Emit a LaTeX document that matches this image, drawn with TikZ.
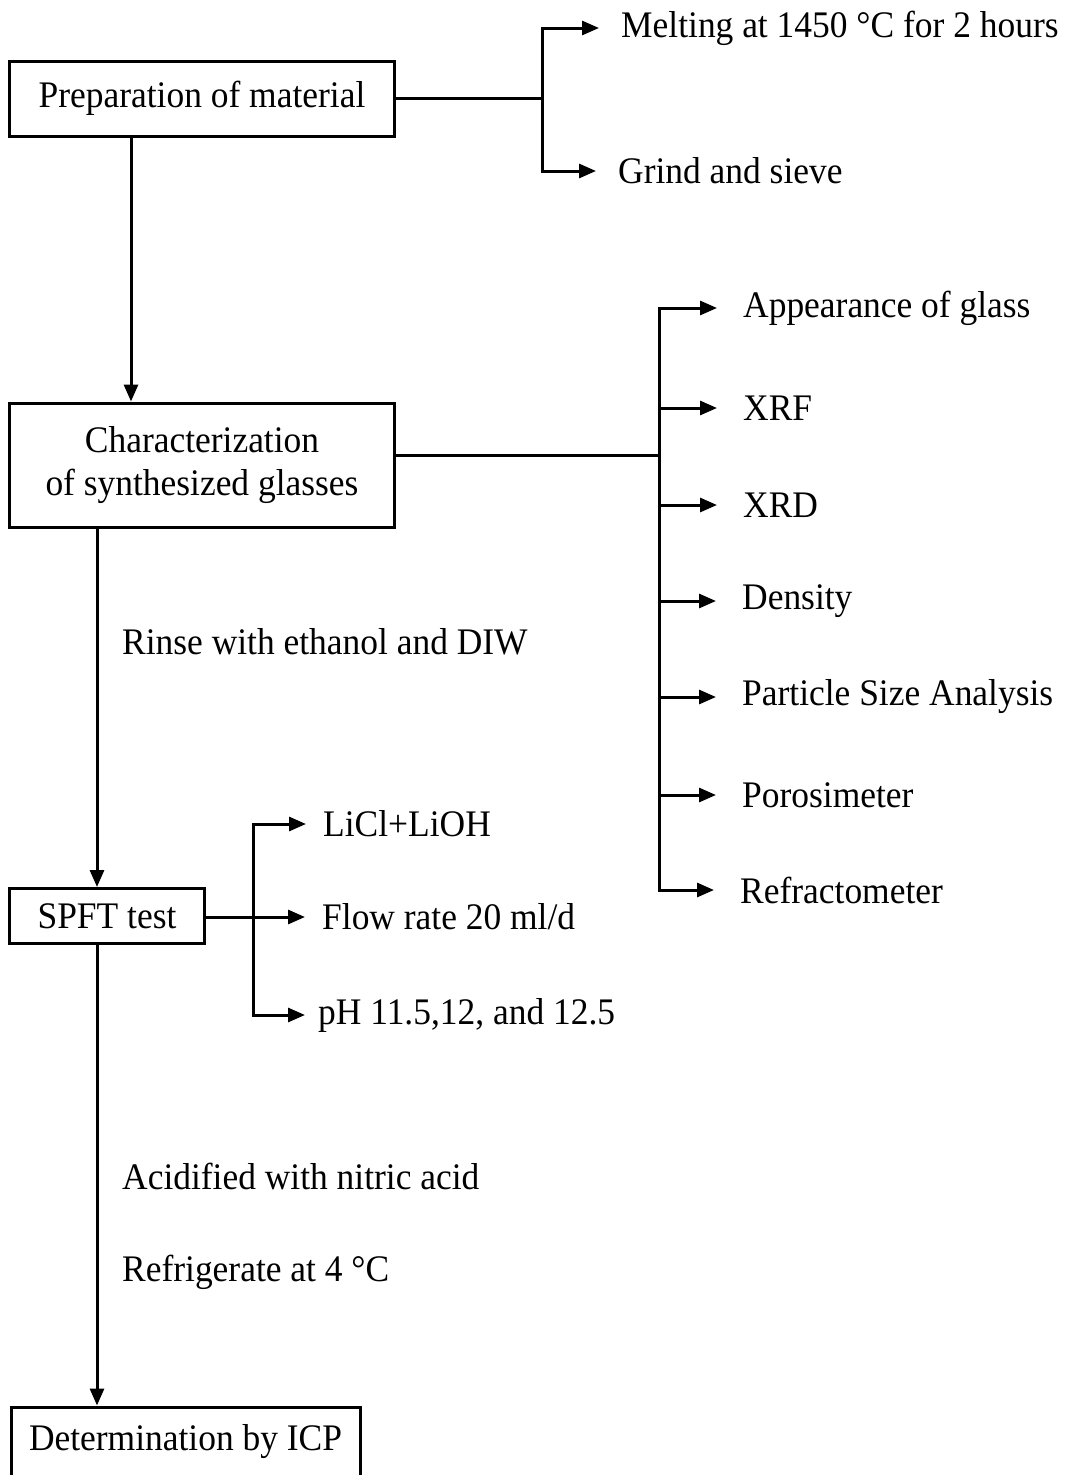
\documentclass[tikz,border=0pt]{standalone}
\usepackage{fontspec}
\setmainfont[FakeStretch=0.945]{Liberation Serif}
\usetikzlibrary{arrows.meta}
\begin{document}
\begin{tikzpicture}[x=1pt,y=-1pt,
  every node/.style={font=\fontsize{37.5}{43}\selectfont},
  box/.style={draw,line width=3pt,inner sep=0pt,align=center},
  lbl/.style={anchor=west,inner sep=0pt},
  conn/.style={line width=3pt},
  arr/.style={conn,-{Triangle[length=17pt,width=14pt]}}]
\clip (0,0) rectangle (1071,1475);
\fill[white] (0,0) rectangle (1071,1475);

% boxes
\node[box,minimum width=385pt,minimum height=75pt] (prep) at (202,98.5) {Preparation of material};
\node[box,minimum width=385pt,minimum height=124pt] (char) at (202,465) {Characterization\\of synthesized glasses};
\node[box,minimum width=195pt,minimum height=55pt] (spft) at (107,916) {SPFT test};
\node[box,minimum width=349pt,minimum height=80pt,text height=26pt,text depth=20pt] (icp) at (185.5,1447) {Determination by ICP};

% labels
\node[lbl] (melt) at (621,28) {Melting at 1450 °C for 2 hours};
\node[lbl] (grind) at (618,171) {Grind and sieve};

\node[lbl] (app) at (743,308) {Appearance of glass};
\node[lbl] (xrf) at (743,408) {XRF};
\node[lbl] (xrd) at (743,505) {XRD};
\node[lbl] (dens) at (742,601) {Density};
\node[lbl] (part) at (742,697) {Particle Size Analysis};
\node[lbl] (poro) at (742,795) {Porosimeter};
\node[lbl] (refr) at (740,890) {Refractometer};

\node[lbl] (rinse) at (122,642) {Rinse with ethanol and DIW};

\node[lbl] (licl) at (323,824) {LiCl+LiOH};
\node[lbl] (flow) at (322,917) {Flow rate 20 ml/d};
\node[lbl] (ph) at (318,1015) {pH 11.5,12, and 12.5};

\node[lbl] (acid) at (122,1176) {Acidified with nitric acid};
\node[lbl] (fridge) at (122,1272) {Refrigerate at 4 °C};

% junctions
\coordinate (j1) at (542,98.5);
\coordinate (j2) at (659,455);
\coordinate (j3) at (253,917);
\coordinate (c1) at (131,0);
\coordinate (c2) at (97,0);

% preparation branches
\draw[conn] (prep.east) -- (j1);
\draw[arr,shorten >=22pt] (j1) |- (melt.west);
\draw[arr,shorten >=22pt] (j1) |- (grind.west);

% characterization branches
\draw[conn] (char.east |- j2) -- (j2);
\foreach \t in {app,xrf,xrd,dens,part,poro,refr}
  \draw[arr,shorten >=26pt] (j2) |- (\t.west);

% SPFT branches
\draw[arr,shorten >=17pt] (spft.east |- flow.west) -- (flow.west);
\draw[arr,shorten >=17pt] (j3) |- (licl.west);
\draw[arr,shorten >=13pt] (j3) |- (ph.west);

% main flow
\draw[arr] (prep.south -| c1) -- (char.north -| c1);
\draw[arr] (char.south -| c2) -- (spft.north -| c2);
\draw[arr] (spft.south -| c2) -- (icp.north -| c2);
\end{tikzpicture}
\end{document}
